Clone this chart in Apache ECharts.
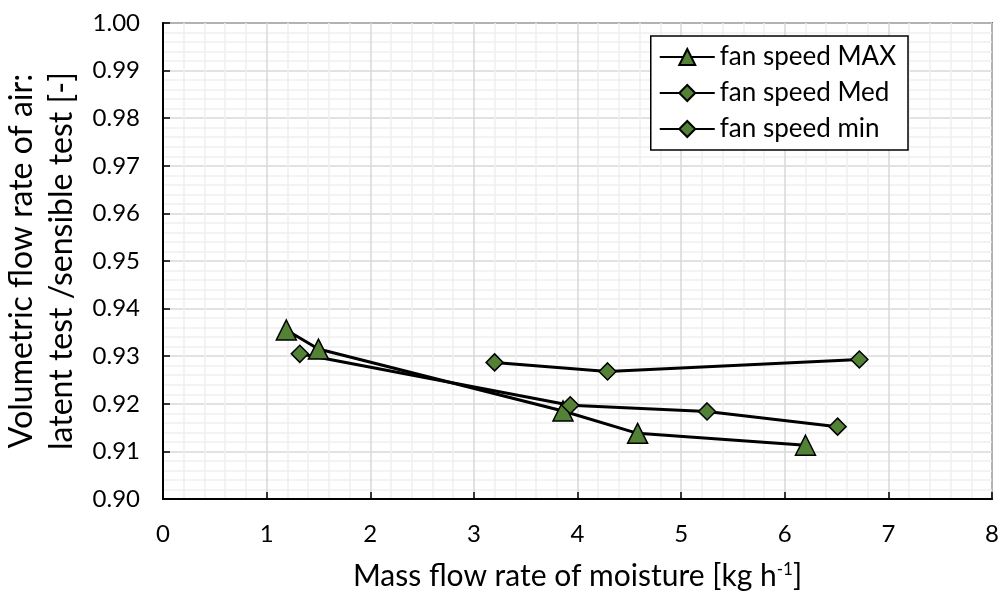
<!DOCTYPE html>
<html><head><meta charset="utf-8">
<script src="https://cdn.jsdelivr.net/npm/echarts@6/dist/echarts.min.js"></script>
<style>html,body{margin:0;padding:0;background:#fff}#c{width:1001px;height:597px}</style>
</head><body><div id="c"></div>
<script>
const seriesNames = ['fan speed MAX', 'fan speed Med', 'fan speed min'];
const maxX = [1.19, 1.50, 3.86, 4.58, 6.20];
const maxY = [0.9355, 0.9315, 0.9185, 0.9138, 0.9113];
const medX = [1.32, 3.93, 5.25, 6.51];
const medY = [0.9305, 0.9197, 0.9184, 0.9152];
const minX = [3.20, 4.29, 6.72];
const minY = [0.9287, 0.9268, 0.9293];
const xTicks = [0, 1, 2, 3, 4, 5, 6, 7, 8];
const yTicks = [0.90, 0.91, 0.92, 0.93, 0.94, 0.95, 0.96, 0.97, 0.98, 0.99, 1.00];

const FONT = 'Lato, "Open Sans", sans-serif';
const GREEN = '#538135';
function pts(xs, ys){ return xs.map((x,i)=>[x, ys[i]]); }
function mk(name, xs, ys, symbol, size){
  return {
    name, type:'line', data: pts(xs, ys), symbol, symbolSize: size,
    lineStyle:{color:'#000', width:3},
    itemStyle:{color:GREEN, borderColor:'#000', borderWidth:1.5},
    emphasis:{disabled:true}, animation:false
  };
}
const chart = echarts.init(document.getElementById('c'));
chart.setOption({
  animation:false,
  textStyle:{fontFamily:FONT},
  grid:{left:163, right:9, top:23, bottom:98, containLabel:false, outerBoundsMode:'none', show:true, borderColor:'#000', borderWidth:1.5, backgroundColor:'transparent'},
  legend:{
    right:93, top:36, orient:'vertical', itemWidth:55, itemHeight:20, itemGap:10,
    backgroundColor:'#fff', borderColor:'#000', borderWidth:1.5, padding:[8,12,8,8],
    textStyle:{fontSize:26, color:'#000', fontFamily:FONT},
    data: seriesNames
  },
  xAxis:{
    type:'value', min:xTicks[0], max:xTicks[xTicks.length-1], interval:1,
    axisLine:{show:true, onZero:false, lineStyle:{color:'#000', width:2}},
    axisTick:{show:true, inside:true, length:7, lineStyle:{color:'#000', width:1.5}},
    axisLabel:{fontSize:24, color:'#000', margin:23, fontFamily:FONT},
    splitLine:{show:true, lineStyle:{color:'#d9d9d9', width:1.5}},
    minorTick:{show:false, splitNumber:5},
    minorSplitLine:{show:true, lineStyle:{color:'#efefef', width:1.5}},
    name:'Mass flow rate of moisture [kg h{s|-1}]', nameLocation:'middle', nameGap:62,
    nameTextStyle:{fontSize:30, color:'#000', fontFamily:FONT, rich:{s:{fontSize:17, verticalAlign:'top', padding:[0,0,14,0], color:'#000', fontFamily:FONT}}}
  },
  yAxis:{
    type:'value', min:yTicks[0], max:yTicks[yTicks.length-1], interval:0.01,
    axisLine:{show:true, onZero:false, lineStyle:{color:'#000', width:2}},
    axisTick:{show:true, inside:true, length:7, lineStyle:{color:'#000', width:1.5}},
    axisLabel:{fontSize:24, color:'#000', margin:23, fontFamily:FONT, formatter:v=>v.toFixed(2)},
    splitLine:{show:true, lineStyle:{color:'#d9d9d9', width:1.5}},
    minorTick:{show:false, splitNumber:5},
    minorSplitLine:{show:true, lineStyle:{color:'#efefef', width:1.5}},
    name:'Volumetric flow rate of air:\nlatent test /sensible test [-]', nameLocation:'middle', nameGap:78,
    nameTextStyle:{fontSize:32, color:'#000', fontFamily:FONT, lineHeight:40, align:'center'}
  },
  series:[
    mk(seriesNames[0], maxX, maxY, 'triangle', 20),
    mk(seriesNames[1], medX, medY, 'diamond', 17),
    mk(seriesNames[2], minX, minY, 'diamond', 17)
  ]
});
</script></body></html>
